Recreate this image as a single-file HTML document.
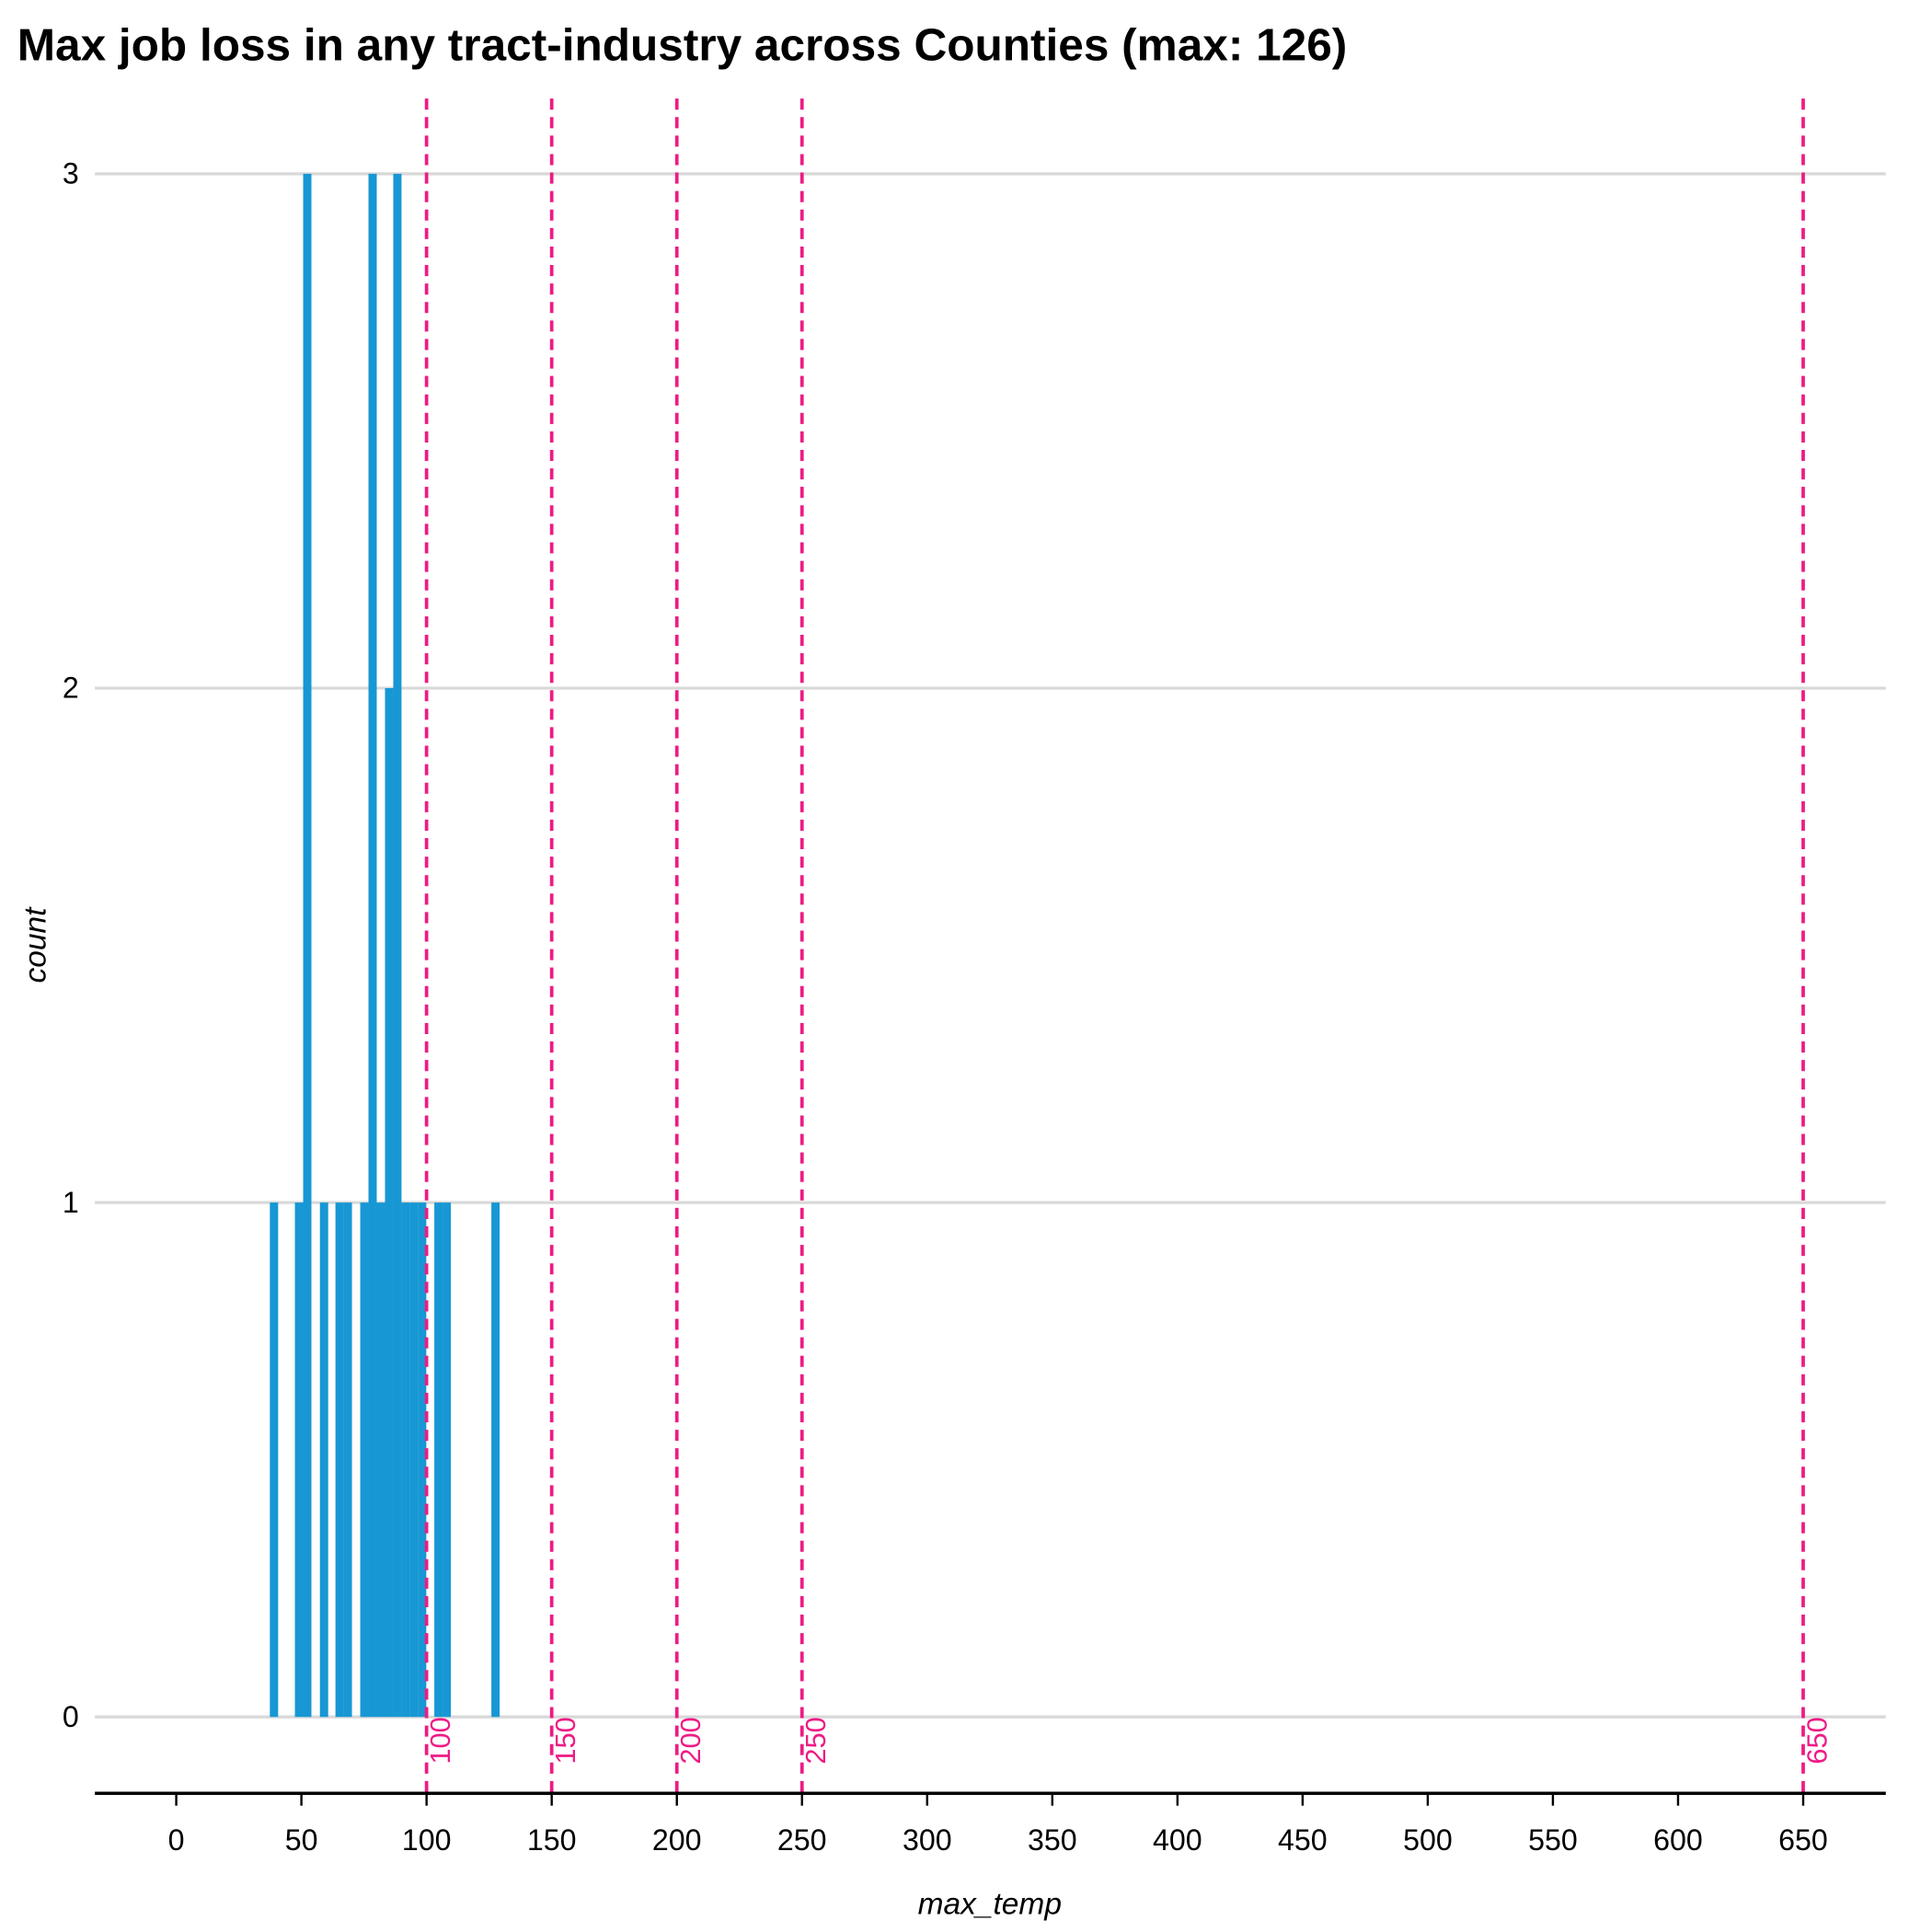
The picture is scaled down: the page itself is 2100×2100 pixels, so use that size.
<!DOCTYPE html>
<html><head><meta charset="utf-8"><style>
html,body{margin:0;padding:0;background:#fff}
svg{display:block;font-family:"Liberation Sans",Arial,sans-serif}
</style></head><body>
<svg id="chart" width="2100" height="2100" viewBox="0 0 1567.5 1567.5" xmlns="http://www.w3.org/2000/svg">
<text x="14" y="49" font-size="37" font-weight="bold" fill="#000">Max job loss in any tract-industry across Counties (max: 126)</text>
<g id="grid"></g><g id="bars"></g><g id="vlines"></g><g id="axes"></g>
<text transform="translate(37,767) rotate(-90)" text-anchor="middle" font-size="25" font-style="italic">count</text>
<text x="803" y="1553" text-anchor="middle" font-size="25" font-style="italic">max_temp</text>
</svg>
<script>
const binStarts=[37.4,47.4,50.7,57.4,63.6,66.9,73.5,76.8,80.1,83.4,86.7,90.0,93.3,96.6,103.1,106.4,125.9];
const binCounts=[1,1,3,1,1,1,1,3,1,2,3,1,1,1,1,1,1];
const binWidth=3.3;
const refLines=[100,150,200,250,650];
const xTicks=[0,50,100,150,200,250,300,350,400,450,500,550,600,650];
const yTicks=[0,1,2,3];
const NS="http://www.w3.org/2000/svg";
const X=v=>143+v*(1320/650);
const Y=v=>1393-v*(1252/3);
function mk(t,a,p){const e=document.createElementNS(NS,t);for(const k in a)e.setAttribute(k,a[k]);p.appendChild(e);return e;}
const grid=document.getElementById('grid'),bars=document.getElementById('bars'),vl=document.getElementById('vlines'),ax=document.getElementById('axes');
yTicks.forEach(t=>{
 const l=mk('line',{x1:77,x2:1530,y1:Y(t),y2:Y(t),stroke:'#d9d9d9','stroke-width':2.5},grid);
 
 
 const tx=mk('text',{x:64,y:Y(t)+8,'text-anchor':'end','font-size':24},ax);tx.textContent=t;
 
 
});
binStarts.forEach((s,i)=>{
 const r=mk('rect',{x:X(s),y:Y(binCounts[i]),width:X(s+binWidth)-X(s),height:Y(0)-Y(binCounts[i]),fill:'#1797D4'},bars);
 
 
});
refLines.forEach(v=>{
 const l=mk('line',{x1:X(v),x2:X(v),y1:80,y2:1455,stroke:'#EE1B85','stroke-width':2.8,'stroke-dasharray':'9,6'},vl);
 
 
 const t=mk('text',{transform:`translate(${X(v)+19},1393) rotate(-90)`,'text-anchor':'end','font-size':23,fill:'#EE1B85'},vl);t.textContent=v;
 
 
});
const axl=mk('line',{x1:77,x2:1530,y1:1455,y2:1455,stroke:'#000','stroke-width':2.6},ax);


xTicks.forEach(t=>{
 const k=mk('line',{x1:X(t),x2:X(t),y1:1455,y2:1465,stroke:'#000','stroke-width':1.8},ax);
 
 
 const tx=mk('text',{x:X(t),y:1501,'text-anchor':'middle','font-size':24},ax);tx.textContent=t;
 
 
});
</script>
</body></html>
